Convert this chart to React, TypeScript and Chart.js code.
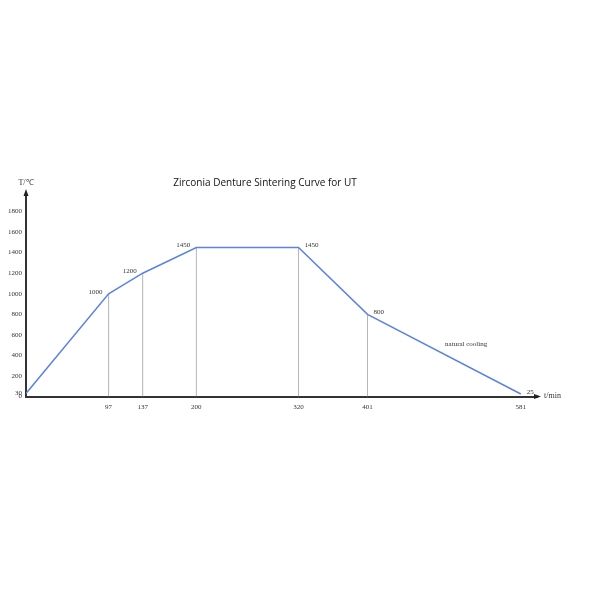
import React, { useEffect, useRef } from "react";
import { Chart, registerables } from "chart.js";
Chart.register(...registerables);

const times = [0, 97, 137, 200, 320, 401, 581];
const temps = [30, 1000, 1200, 1450, 1450, 800, 25];
const pointLabels = ["", "1000", "1200", "1450", "1450", "800", "25"];
const labelSides = ["", "left", "left", "left", "right", "right", "right"];
const xTicks = [97, 137, 200, 320, 401, 581];
const yTicks = [0, 30, 200, 400, 600, 800, 1000, 1200, 1400, 1600, 1800];
const dropTimes = [97, 137, 200, 320, 401];
const titleText = "Zirconia Denture Sintering Curve for UT";
const yAxisTitle = "T/℃";
const xAxisTitle = "t/min";
const noteText = "natural cooling";

const tickFont = { family: "Liberation Serif", size: 7 };

export default function App() {
  const ref = useRef<HTMLCanvasElement>(null);
  useEffect(() => {
    const ctx = ref.current!;
    const drops = dropTimes.map((t) => {
      const i = times.indexOf(t);
      return {
        data: [
          { x: t, y: 0 },
          { x: t, y: temps[i] },
        ],
        borderColor: "#b5b5b5",
        borderWidth: 1,
        pointRadius: 0,
      };
    });
    const overlay = {
      id: "overlay",
      afterDraw(chart: any) {
        const c = chart.ctx;
        const area = chart.chartArea;
        const xs = chart.scales.x;
        const ys = chart.scales.y;
        c.save();
        c.fillStyle = "#222";
        c.beginPath();
        c.moveTo(area.left, area.top - 4);
        c.lineTo(area.left - 2.5, area.top + 3);
        c.lineTo(area.left + 2.5, area.top + 3);
        c.closePath();
        c.fill();
        c.beginPath();
        c.moveTo(area.right + 4, area.bottom);
        c.lineTo(area.right - 3, area.bottom - 2.5);
        c.lineTo(area.right - 3, area.bottom + 2.5);
        c.closePath();
        c.fill();
        c.font = "7px 'Liberation Serif'";
        c.fillStyle = "#333";
        c.textBaseline = "middle";
        times.forEach((t, i) => {
          if (!pointLabels[i]) return;
          const px = xs.getPixelForValue(t);
          const py = ys.getPixelForValue(temps[i]);
          if (labelSides[i] === "left") {
            c.textAlign = "right";
            c.fillText(pointLabels[i], px - 6, py - 2);
          } else {
            c.textAlign = "left";
            c.fillText(pointLabels[i], px + 6, py - 2);
          }
        });
        const n = times.length - 1;
        const mx = (xs.getPixelForValue(times[n - 1]) + xs.getPixelForValue(times[n])) / 2;
        const my = (ys.getPixelForValue(temps[n - 1]) + ys.getPixelForValue(temps[n])) / 2;
        c.textAlign = "center";
        c.fillText(noteText, mx + 22, my - 10);
        c.font = "8px 'Liberation Serif'";
        c.textAlign = "center";
        c.fillText(yAxisTitle, area.left, area.top - 10);
        c.textAlign = "left";
        c.fillText(xAxisTitle, area.right + 7, area.bottom - 1);
        c.font = "10px 'Open Sans'";
        c.fillStyle = "#111";
        c.textAlign = "center";
        c.fillText(titleText, 265, 183);
        c.restore();
      },
    };
    const chart = new Chart(ctx, {
      type: "line",
      data: {
        datasets: [
          {
            data: times.map((t, i) => ({ x: t, y: temps[i] })),
            borderColor: "#5b82e6",
            borderWidth: 1.5,
            pointRadius: 0,
          },
          ...drops,
        ],
      },
      options: {
        animation: false,
        responsive: false,
        layout: { padding: { left: 4, right: 63, top: 193, bottom: 183 } },
        plugins: { legend: { display: false }, tooltip: { enabled: false } },
        scales: {
          x: {
            type: "linear",
            min: 0,
            max: 600,
            grid: { display: false, drawTicks: false },
            border: { display: true, color: "#333", width: 2 },
            afterBuildTicks: (axis: any) => {
              axis.ticks = xTicks.map((v) => ({ value: v }));
            },
            ticks: {
              autoSkip: false,
              font: tickFont,
              color: "#333",
              padding: 6,
              maxRotation: 0,
              callback: (v: any) => String(v),
            },
          },
          y: {
            type: "linear",
            min: 0,
            max: 1980,
            grid: { display: false, drawTicks: false },
            border: { display: true, color: "#333", width: 2 },
            afterBuildTicks: (axis: any) => {
              axis.ticks = yTicks.map((v) => ({ value: v }));
            },
            ticks: {
              autoSkip: false,
              font: tickFont,
              color: "#333",
              padding: 4,
              callback: (v: any) => String(v),
            },
          },
        },
      },
      plugins: [overlay],
    });
    return () => chart.destroy();
  }, []);
  return (
    <div style={{ position: "fixed", left: 0, top: 0, width: 600, height: 600, background: "#fff" }}>
      <canvas ref={ref} width={600} height={600} />
    </div>
  );
}
